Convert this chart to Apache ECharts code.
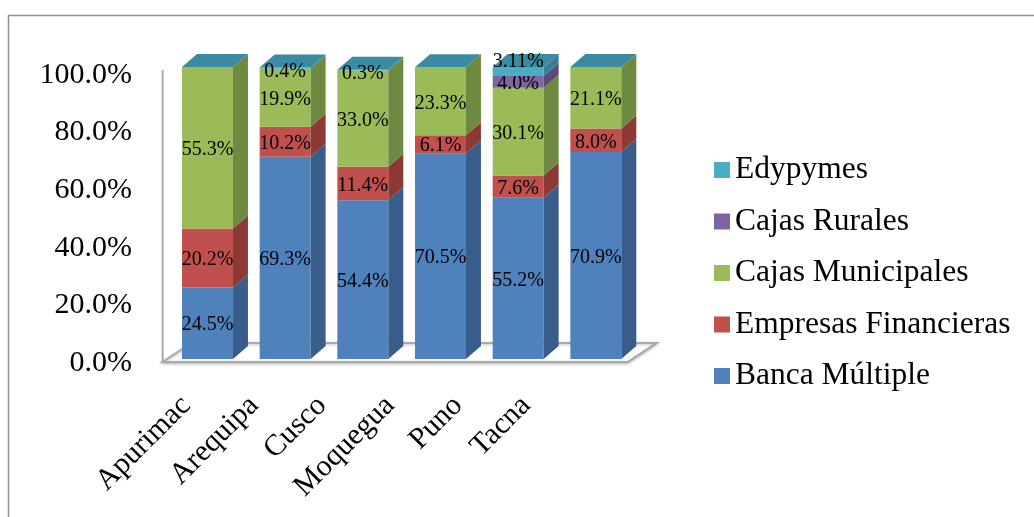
<!DOCTYPE html>
<html>
<head>
<meta charset="utf-8">
<script src="https://cdn.jsdelivr.net/npm/echarts@6/dist/echarts.min.js"></script>
<style>
  html, body { margin: 0; padding: 0; background: #ffffff; }
  #chart { width: 1034px; height: 517px; }
</style>
</head>
<body>
<div id="chart"></div>
<script>
// Regions and the share (%) of each type of financial institution
const regions = ['Apurimac', 'Arequipa', 'Cusco', 'Moquegua', 'Puno', 'Tacna'];
const bancaMultiple = [24.5, 69.3, 54.4, 70.5, 55.2, 70.9];
const empresasFinancieras = [20.2, 10.2, 11.4, 6.1, 7.6, 8.0];
const cajasMunicipales = [55.3, 19.9, 33.0, 23.3, 30.1, 21.1];
const cajasRurales = [0, 0, 0, 0, 4.0, 0];
const edypymes = [0, 0.4, 0.3, 0, 3.11, 0];
const yTicks = [0, 20, 40, 60, 80, 100];

// stacking order, bottom to top
const layers = [
  { name: 'Banca Múltiple', values: bancaMultiple, front: '#4F81BD', side: '#385D8A' },
  { name: 'Empresas Financieras', values: empresasFinancieras, front: '#C0504D', side: '#8C3936' },
  { name: 'Cajas Municipales', values: cajasMunicipales, front: '#9BBB59', side: '#6E8940' },
  { name: 'Cajas Rurales', values: cajasRurales, front: '#8064A2', side: '#5D4978' },
  { name: 'Edypymes', values: edypymes, front: '#4BACC6', side: '#357F93' }
];
const topFace = '#3A8BA1';
const depthX = 15, depthY = 13;     // 3D extrusion of the columns
const barRatio = 0.656;             // column width relative to the band
const serif = '"Liberation Serif", "Times New Roman", serif';
// small label nudges for crowded caps
const capLabelNudge = { Puno: -12 };

function fmt(v) {
  const t = v * 10;
  return (Math.abs(Math.round(t) - t) < 1e-9 ? v.toFixed(1) : v.toFixed(2)) + '%';
}

// cumulative bases per layer
const bases = layers.map(() => []);
regions.forEach((r, i) => {
  let acc = 0;
  layers.forEach((l, k) => { bases[k][i] = acc; acc += l.values[i]; });
});

const chart = echarts.init(document.getElementById('chart'), null, { renderer: 'canvas' });

// floor and back edge of the 3D plot area
const frameSeries = {
  type: 'custom',
  name: 'frame',
  xAxisIndex: 0, yAxisIndex: 0,
  silent: true,
  z: 1,
  data: [[0]],
  renderItem: function (params, api) {
    const cs = params.coordSys;
    const y0 = api.coord([0, 0])[1];
    const y100 = api.coord([0, 100])[1];
    const gl = cs.x, gr = cs.x + cs.width;
    return {
      type: 'group',
      children: [
        { type: 'polygon', shape: { points: [[gl - 6, y0 + 3], [gr - 7, y0 + 3], [gr + 22, y0 - 16], [gl + 23, y0 - 16]] },
          style: { stroke: '#a9a9a9', lineWidth: 2, fill: '#ffffff', shadowColor: 'rgba(0,0,0,0.25)', shadowBlur: 3, shadowOffsetY: 1 } },
        { type: 'line', shape: { x1: gl - 6, y1: y100 + 3, x2: gl - 6, y2: y0 + 3 }, style: { stroke: '#a9a9a9', lineWidth: 2 } }
      ]
    };
  }
};

const barSeries = layers.map((l, k) => ({
  type: 'custom',
  name: l.name,
  xAxisIndex: 0, yAxisIndex: 0,
  z: 2 + k,
  itemStyle: { color: l.front },
  data: regions.map((r, i) => [i, bases[k][i], l.values[i]]),
  renderItem: function (params, api) {
    const x = api.value(0), base = api.value(1), v = api.value(2);
    const p0 = api.coord([x, base]);
    const p1 = api.coord([x, base + v]);
    const w = api.size([1, 0])[0] * barRatio;
    const L = p0[0] - w / 2, R = p0[0] + w / 2;
    const yb = p0[1], yt = p1[1];
    const children = [];
    if (v > 0) {
      children.push({ type: 'rect', shape: { x: L, y: yt, width: w, height: yb - yt }, style: { fill: l.front } });
      children.push({ type: 'polygon', shape: { points: [[R, yb], [R + depthX, yb - depthY], [R + depthX, yt - depthY], [R, yt]] }, style: { fill: l.side } });
    }
    if (k === layers.length - 1) {
      children.push({ type: 'polygon', shape: { points: [[L, yt], [R, yt], [R + depthX, yt - depthY], [L + depthX, yt - depthY]] }, style: { fill: topFace } });
    }
    if (v > 0) {
      let ly = (yb + yt) / 2 + 2;
      if (k === layers.length - 1 && capLabelNudge[regions[x]]) ly += capLabelNudge[regions[x]];
      else if (k === layers.length - 1) ly = yt + 4;
      children.push({
        type: 'text',
        z2: 10,
        style: { x: p0[0], y: ly, text: fmt(v), fill: '#000000', font: '20px ' + serif, align: 'center', verticalAlign: 'middle' }
      });
    }
    return { type: 'group', children: children };
  }
}));

const option = {
  animation: false,
  backgroundColor: '#ffffff',
  color: layers.map(l => l.front),
  graphic: [
    { type: 'rect', left: 6, top: 13, z: -10, shape: { width: 1100, height: 600 }, style: { fill: 'none', stroke: '#8f8f8f', lineWidth: 1.5 } }
  ],
  legend: {
    orient: 'vertical',
    left: 709,
    top: 149,
    itemWidth: 16,
    itemHeight: 16,
    itemGap: 19.5,
    icon: 'rect',
    data: ['Edypymes', 'Cajas Rurales', 'Cajas Municipales', 'Empresas Financieras', 'Banca Múltiple'],
    textStyle: { fontFamily: serif, fontSize: 31.5, color: '#000000', lineHeight: 31, padding: [0, 0, 0, 0] }
  },
  grid: [
    // columns
    { left: 168.65, width: 466, top: 67, height: 292 },
    // value and category labels of the wall
    { left: 152, width: 408, top: 75, height: 288 }
  ],
  xAxis: [
    { type: 'category', gridIndex: 0, data: regions, axisLine: { show: false }, axisTick: { show: false }, axisLabel: { show: false } },
    {
      type: 'category', gridIndex: 1, data: regions,
      axisLine: { show: false }, axisTick: { show: false },
      axisLabel: { rotate: 45, margin: 38, fontFamily: serif, fontSize: 30, color: '#000000', interval: 0 }
    }
  ],
  yAxis: [
    { type: 'value', gridIndex: 0, min: yTicks[0], max: yTicks[yTicks.length - 1], interval: 20, show: false },
    {
      type: 'value', gridIndex: 1, min: yTicks[0], max: yTicks[yTicks.length - 1], interval: 20,
      axisLine: { show: false }, axisTick: { show: false }, splitLine: { show: false },
      axisLabel: {
        margin: 20, fontFamily: serif, fontSize: 30, color: '#000000',
        formatter: v => v.toFixed(1) + '%'
      }
    }
  ],
  series: [frameSeries].concat(barSeries)
};

chart.setOption(option);
</script>
</body>
</html>
